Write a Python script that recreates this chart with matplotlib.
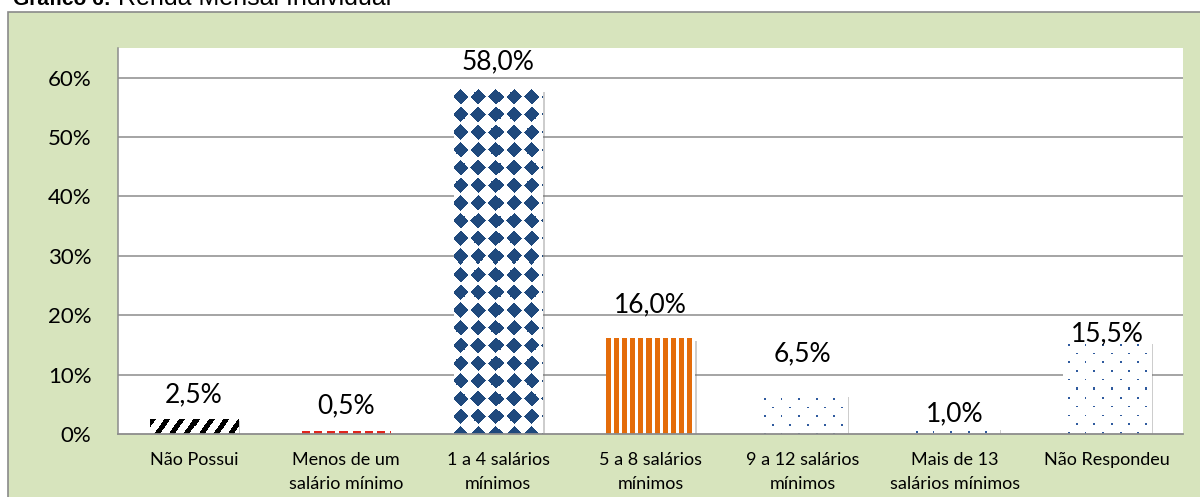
import numpy as np
import matplotlib
matplotlib.use("Agg")
import matplotlib.pyplot as plt
from matplotlib.patches import Rectangle
import matplotlib.patheffects as pe

# ---------------- data ----------------
categories = ["Não Possui", "Menos de um\nsalário mínimo", "1 a 4 salários\nmínimos",
              "5 a 8 salários\nmínimos", "9 a 12 salários\nmínimos",
              "Mais de 13\nsalários mínimos", "Não Respondeu"]
values = [0.025, 0.005, 0.58, 0.16, 0.065, 0.01, 0.155]
y_ticks = [0.0, 0.1, 0.2, 0.3, 0.4, 0.5, 0.6]
y_tick_labels = ["0%", "10%", "20%", "30%", "40%", "50%", "60%"]
title_bold = "Gráfico 6:"
title_rest = " Renda Mensal Individual"

# ---------------- styles ----------------
patterns = ["diag", "dash", "diamond", "vstripe", "dots", "dots", "dots"]
label_gap_px = [17, 18, 20, 27, 34, 7, 1]
GREEN = "#D7E4BD"
GRID = "#8C8C8C"
FONT = ["Lato", "DejaVu Sans"]

W, H = 1200, 497
fig = plt.figure(figsize=(W / 100, H / 100), dpi=100)
fig.patch.set_facecolor("white")

# outer green frame
frame = Rectangle((7.5 / W, -0.1), 1.2, (H - 11.5) / H + 0.1, transform=fig.transFigure,
                  facecolor=GREEN, edgecolor="#8A8A8A", linewidth=1.2, zorder=-10)
fig.patches.append(frame)

# title (partly cut at top)
r = fig.canvas.get_renderer()
t1 = fig.text(13 / W, 1 - 5 / H, title_bold, fontsize=15, fontweight="bold",
              family=["Liberation Sans", "DejaVu Sans"], va="baseline", ha="left")
bb = t1.get_window_extent(renderer=r)
fig.text(bb.x1 / W, 1 - 5 / H, title_rest, fontsize=18,
         family=["Liberation Sans", "DejaVu Sans"], va="baseline", ha="left")

ax = fig.add_axes([118 / W, 1 - 434 / H, (1183 - 118) / W, (434 - 48) / H], zorder=1)
ax.set_facecolor("white")
x = np.arange(len(categories))
ax.set_xlim(-0.5, len(categories) - 0.5)
ax.set_ylim(0, 0.65)

for yt in y_ticks[1:]:
    ax.axhline(yt, color=GRID, lw=1.1, zorder=1)

bars = ax.bar(x, values, width=0.58, color="white", edgecolor="none", zorder=2,
              path_effects=[pe.SimplePatchShadow(offset=(1.5, -1.5), shadow_rgbFace="#707070", alpha=0.35),
                            pe.Normal()])


def rgba(hexcol):
    return np.array(matplotlib.colors.to_rgba(hexcol))


def pattern_mask(kind, w, h):
    xx, yy = np.meshgrid(np.arange(w) + 0.5, np.arange(h) + 0.5)
    if kind == "diag":
        return ((xx + 0.7 * yy) % 14.5) < 6.0, "#000000"
    if kind == "dash":
        return (xx % 12.4) < 8.0, "#E0261C"
    if kind == "diamond":
        px, py = 17.5, 17.7
        dx = ((xx - 6.7 + px / 2) % px) - px / 2
        dy = ((yy - 7.7 + py / 2) % py) - py / 2
        m = (np.abs(dx) + np.abs(dy) <= 7.8) | (dx ** 2 + dy ** 2 <= 5.6 ** 2)
        return m, "#1F497D"
    if kind == "vstripe":
        return (xx % 8.0) < 5.0, "#E46C0A"
    if kind == "dots":
        ry = yy - 3.0
        row = np.floor(ry / 8.7)
        m = ((ry % 8.7) < 1.6) & (((xx - 4.7 - (row % 2) * 8.5) % 17.0) < 1.8) & (ry >= 0)
        return m, "#2F5A9E"
    return np.zeros_like(xx, bool), "#000000"


for b, kind in zip(bars, patterns):
    x0, y0 = ax.transData.transform((b.get_x(), 0))
    x1, y1 = ax.transData.transform((b.get_x() + b.get_width(), b.get_height()))
    w = max(int(round(x1 - x0)), 1)
    h = max(int(round(y1 - y0)), 1)
    m, col = pattern_mask(kind, w, h)
    img = np.ones((h, w, 4))
    img[m] = rgba(col)
    ax.imshow(img, extent=(b.get_x(), b.get_x() + b.get_width(), 0, b.get_height()),
              origin="upper", interpolation="nearest", aspect="auto", zorder=3)

ax.set_xlim(-0.5, len(categories) - 0.5)
ax.set_ylim(0, 0.65)

for xi, v, g in zip(x, values, label_gap_px):
    ax.annotate(f"{v * 100:.1f}%".replace(".", ","), (xi, v), xytext=(0, g),
                textcoords="offset pixels", ha="center", va="baseline",
                fontsize=19, family=FONT, color="black", zorder=5)

ax.set_yticks(y_ticks)
ax.set_yticklabels(y_tick_labels, fontsize=16, family=FONT)
ax.set_xticks(x)
ax.set_xticklabels(categories, fontsize=13, family=FONT, linespacing=1.6)
ax.tick_params(axis="y", length=0, pad=19)
ax.tick_params(axis="x", length=0, pad=13)

for s in ["top", "right"]:
    ax.spines[s].set_visible(False)
ax.spines["left"].set_color(GRID)
ax.spines["bottom"].set_color(GRID)
ax.spines["left"].set_linewidth(1.1)
ax.spines["bottom"].set_linewidth(1.3)
ax.spines["bottom"].set_zorder(4)

fig.savefig("out.png", dpi=100)
